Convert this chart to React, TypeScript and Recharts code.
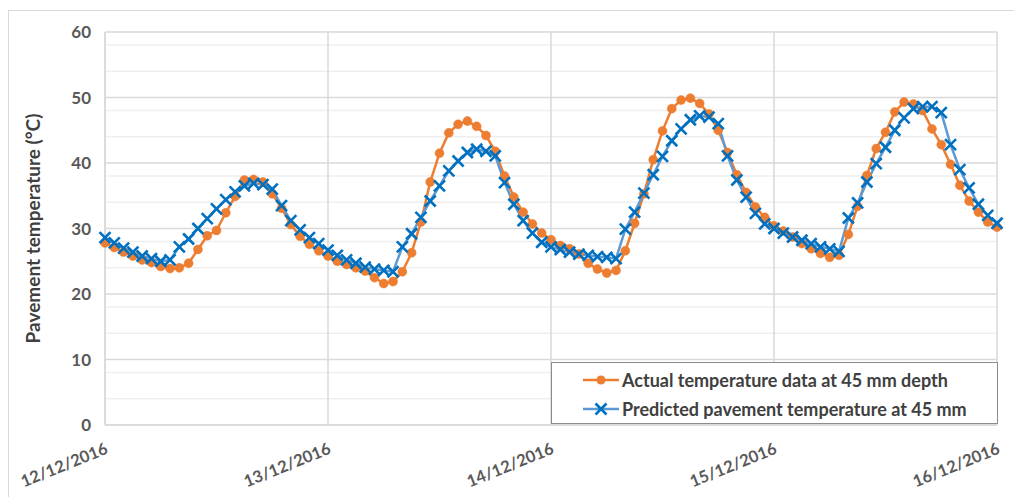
import { CartesianGrid, Line, LineChart, XAxis, YAxis } from 'recharts';

// hourly readings, 12/12/2016 00:00 -> 16/12/2016 00:00
const actualTemp = [
  27.8, 27.1, 26.4, 25.8, 25.2, 24.8, 24.2, 23.9, 24.0, 24.7, 26.8, 28.9,
  29.7, 32.4, 34.9, 37.4, 37.5, 37.1, 35.3, 33.1, 30.6, 28.8, 27.6, 26.6,
  25.8, 25.0, 24.5, 24.0, 23.5, 22.5, 21.6, 21.9, 23.4, 26.3, 31.0, 37.1,
  41.5, 44.6, 45.9, 46.4, 45.6, 44.2, 41.8, 38.0, 34.8, 32.5, 30.7, 29.3,
  28.3, 27.4, 26.9, 26.1, 24.7, 23.8, 23.2, 23.6, 26.6, 30.8, 35.3, 40.5,
  44.9, 48.3, 49.6, 49.9, 49.1, 47.5, 45.0, 41.6, 38.2, 35.5, 33.3, 31.7,
  30.4, 29.6, 28.7, 27.7, 26.9, 26.2, 25.6, 25.9, 29.1, 33.4, 38.1, 42.2,
  44.7, 47.8, 49.3, 49.0, 48.0, 45.2, 42.8, 39.8, 36.6, 34.2, 32.5, 31.0,
  30.2,
];

const predictedTemp = [
  28.6, 27.8, 27.0, 26.4, 25.8, 25.4, 25.0, 25.2, 27.2, 28.4, 30.0, 31.5,
  33.0, 34.4, 35.6, 36.5, 36.9, 36.7, 36.0, 33.5, 31.2, 29.8, 28.6, 27.7,
  26.7, 25.9, 25.2, 24.7, 24.1, 23.8, 23.6, 23.4, 27.2, 29.2, 31.7, 34.2,
  36.5, 38.8, 40.3, 41.6, 42.1, 41.8, 41.1, 37.0, 33.7, 31.2, 29.3, 27.9,
  27.2, 26.8, 26.4, 26.1, 25.9, 25.7, 25.6, 25.4, 29.9, 32.5, 35.4, 38.2,
  41.0, 43.4, 45.2, 46.6, 47.2, 47.0, 46.0, 41.1, 37.4, 34.8, 32.3, 30.7,
  30.0, 29.3, 28.7, 28.2, 27.7, 27.2, 26.9, 26.5, 31.6, 33.9, 37.1, 39.9,
  42.4, 45.0, 46.9, 48.3, 48.6, 48.6, 47.7, 42.8, 39.0, 36.2, 33.7, 32.0,
  30.8,
];

const dayTicks = [0, 24, 48, 72, 96];
const dayLabels = ['12/12/2016', '13/12/2016', '14/12/2016', '15/12/2016', '16/12/2016'];
const majorY = [0, 10, 20, 30, 40, 50, 60];
const minorY = [2, 4, 6, 8, 12, 14, 16, 18, 22, 24, 26, 28, 32, 34, 36, 38, 42, 44, 46, 48, 52, 54, 56, 58];

const data = actualTemp.map((v, i) => ({ hour: i, actual: v, predicted: predictedTemp[i] }));

const FONT = 'Lato, "Open Sans", sans-serif';
const ORANGE = '#ED7D31';
const BLUE_LINE = '#5B9BD5';
const BLUE_MARK = '#0070C0';

const CrossDot = (props: any) => {
  const { cx, cy } = props;
  if (cx == null || cy == null) return null;
  const s = 5.5;
  return (
    <g stroke={BLUE_MARK} strokeWidth={2.6}>
      <line x1={cx - s} y1={cy - s} x2={cx + s} y2={cy + s} />
      <line x1={cx - s} y1={cy + s} x2={cx + s} y2={cy - s} />
    </g>
  );
};

const DateTick = ({ x, y, payload }: any) => {
  const label = dayLabels[dayTicks.indexOf(payload.value)];
  return (
    <g transform={`translate(${x + 4},${y + 20}) rotate(-22)`}>
      <text textAnchor="end" fontFamily={FONT} fontSize={16.5} fontWeight={700} fill="#595959">
        {label}
      </text>
    </g>
  );
};

function LegendBox() {
  return (
    <div
      style={{
        position: 'absolute',
        left: 542,
        top: 351,
        width: 447,
        height: 62,
        border: '1px solid #8c8c8c',
        background: '#fff',
        boxSizing: 'border-box',
        padding: '2px 0 0 31px',
        fontFamily: FONT,
        fontWeight: 700,
        fontSize: 18,
        color: '#404040',
      }}
    >
      <div style={{ display: 'flex', alignItems: 'center', height: 29 }}>
        <svg width={36} height={12} style={{ marginRight: 3 }}>
          <line x1={0} y1={6} x2={36} y2={6} stroke={ORANGE} strokeWidth={2.5} />
          <circle cx={18} cy={6} r={4.5} fill={ORANGE} />
        </svg>
        Actual temperature data at 45 mm depth
      </div>
      <div style={{ display: 'flex', alignItems: 'center', height: 29 }}>
        <svg width={36} height={14} style={{ marginRight: 3 }}>
          <line x1={0} y1={7} x2={36} y2={7} stroke={BLUE_LINE} strokeWidth={2.5} />
          <CrossDot cx={18} cy={7} />
        </svg>
        Predicted pavement temperature at 45 mm
      </div>
    </div>
  );
}

export default function App() {
  return (
    <div
      style={{
        position: 'relative',
        width: 1012,
        height: 500,
        border: '1px solid #d9d9d9',
        marginTop: 2,
        boxSizing: 'border-box',
        background: '#fff',
      }}
    >
      <LineChart width={1010} height={486} data={data} margin={{ top: 21, right: 22, bottom: 12, left: 0 }}>
        <CartesianGrid horizontalValues={minorY} vertical={false} stroke="#efefef" strokeWidth={1.5} />
        <CartesianGrid horizontalValues={majorY} verticalValues={dayTicks} stroke="#d9d9d9" strokeWidth={1.5} />
        <XAxis
          dataKey="hour"
          type="number"
          domain={[0, 96]}
          ticks={dayTicks}
          interval={0}
          tick={<DateTick />}
          tickLine={false}
          axisLine={{ stroke: '#d9d9d9', strokeWidth: 1.5 }}
          height={60}
        />
        <YAxis
          domain={[0, 60]}
          ticks={majorY}
          width={96}
          tickLine={false}
          tickSize={0}
          tickMargin={14}
          axisLine={{ stroke: '#d9d9d9', strokeWidth: 1.5 }}
          tick={{ fontFamily: FONT, fontSize: 17, fontWeight: 700, fill: '#595959' }}
          label={({ viewBox }: any) => (
            <text
              transform={`translate(${viewBox.x + 26},${viewBox.y + viewBox.height / 2}) rotate(-90)`}
              textAnchor="middle"
              dominantBaseline="middle"
              fontFamily={FONT}
              fontSize={19}
              fontWeight={700}
              fill="#404040"
            >
              Pavement temperature (°C)
            </text>
          )}
        />
        <Line
          dataKey="actual"
          stroke={ORANGE}
          strokeWidth={2.5}
          dot={{ r: 4.5, fill: ORANGE, stroke: ORANGE, strokeWidth: 0.5 }}
          activeDot={false}
          isAnimationActive={false}
        />
        <Line
          dataKey="predicted"
          stroke={BLUE_LINE}
          strokeWidth={2.5}
          dot={<CrossDot />}
          activeDot={false}
          isAnimationActive={false}
        />
      </LineChart>
      <LegendBox />
    </div>
  );
}
